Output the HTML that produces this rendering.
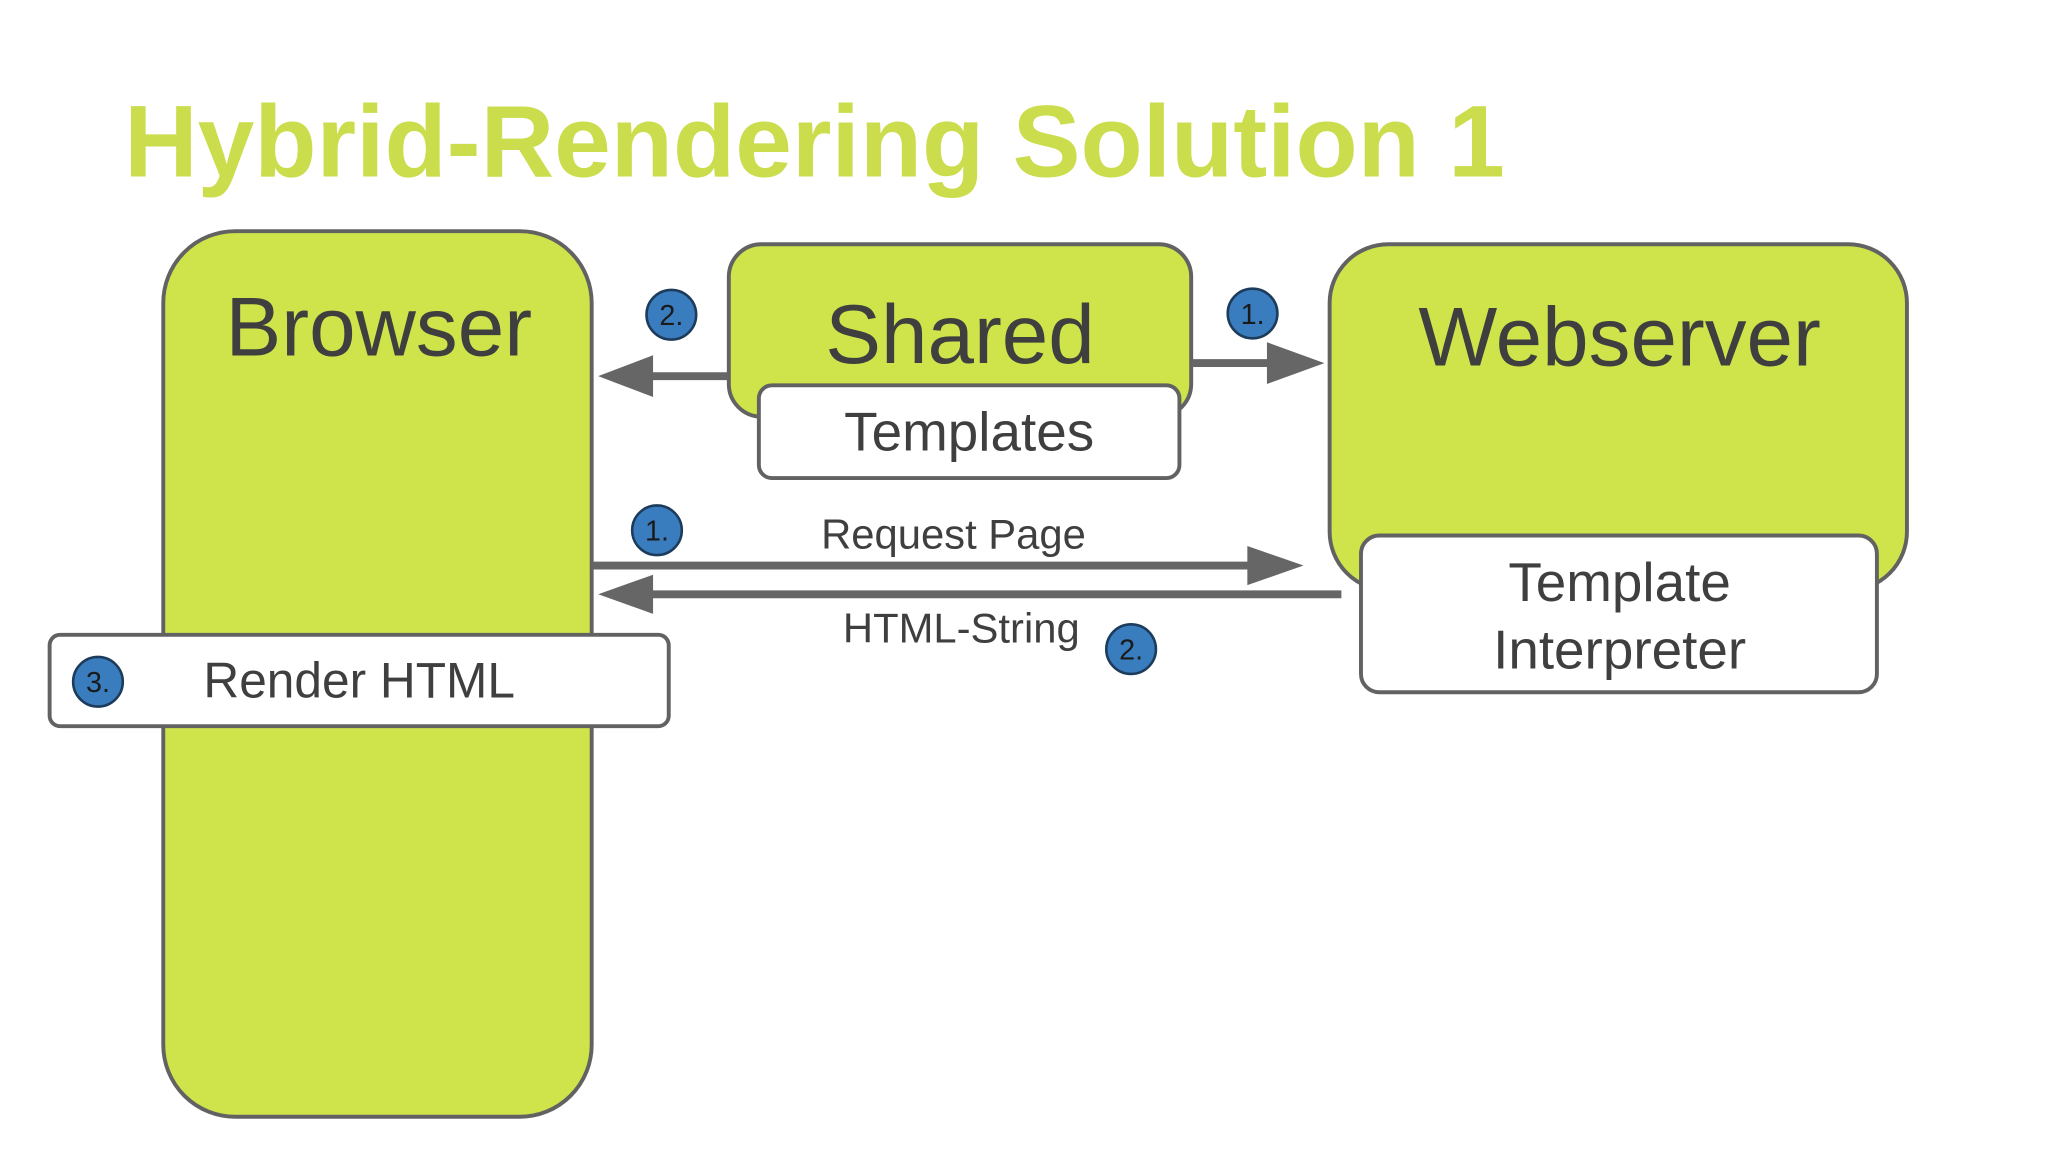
<!DOCTYPE html>
<html><head><meta charset="utf-8"><style>html,body{margin:0;padding:0;background:#fff}svg{display:block}</style></head>
<body>
<svg width="2048" height="1152" viewBox="0 0 1568 882" xmlns="http://www.w3.org/2000/svg" font-family="Liberation Sans, sans-serif">
<rect width="1568" height="882" fill="#fff"/>
<text x="95" y="135" font-size="78" font-weight="bold" fill="#cbdd4c">Hybrid-Rendering Solution 1</text>
<g stroke="#626262" stroke-width="3">
<rect x="125" y="177" width="328" height="678" rx="55" fill="#cfe44b"/>
<rect x="558" y="187" width="354" height="132" rx="25" fill="#cfe44b"/>
<rect x="1018" y="187" width="442" height="265" rx="45" fill="#cfe44b"/>
<rect x="581" y="295" width="322" height="71" rx="10" fill="#fff"/>
<rect x="1042" y="410" width="395" height="120" rx="14" fill="#fff"/>
<rect x="38" y="486" width="474" height="70" rx="8" fill="#fff"/>
</g>
<g fill="#3f3f3f" text-anchor="middle">
<text x="290" y="272" font-size="64">Browser</text>
<text x="735" y="278" font-size="64">Shared</text>
<text x="1240" y="280" font-size="64">Webserver</text>
<text x="742" y="345" font-size="42">Templates</text>
<text x="1240" y="460" font-size="42">Template</text>
<text x="1240" y="512" font-size="42">Interpreter</text>
<text x="730" y="420" font-size="32">Request Page</text>
<text x="736" y="492" font-size="32">HTML-String</text>
<text x="275" y="534" font-size="38">Render HTML</text>
</g>
<g stroke="#666" stroke-width="6" fill="#666">
<line x1="558" y1="288" x2="495" y2="288"/>
<polygon points="458,288 500,272 500,304" stroke="none"/>
<line x1="912" y1="278" x2="975" y2="278"/>
<polygon points="1014,278 970,262 970,294" stroke="none"/>
<line x1="453" y1="433" x2="960" y2="433"/>
<polygon points="998,433 955,418 955,448" stroke="none"/>
<line x1="1027" y1="455" x2="495" y2="455"/>
<polygon points="458,455 500,440 500,470" stroke="none"/>
</g>
<g stroke="#1d3c5c" stroke-width="2" fill="#3a7dbf">
<circle cx="514" cy="241" r="19"/>
<circle cx="959" cy="240" r="19"/>
<circle cx="503" cy="406" r="19"/>
<circle cx="866" cy="497" r="19"/>
<circle cx="75" cy="522" r="19"/>
</g>
<g fill="#1a1a1a" font-size="22" text-anchor="middle">
<text x="514" y="249">2.</text>
<text x="959" y="248">1.</text>
<text x="503" y="414">1.</text>
<text x="866" y="505">2.</text>
<text x="75" y="530">3.</text>
</g>
</svg>
</body></html>
